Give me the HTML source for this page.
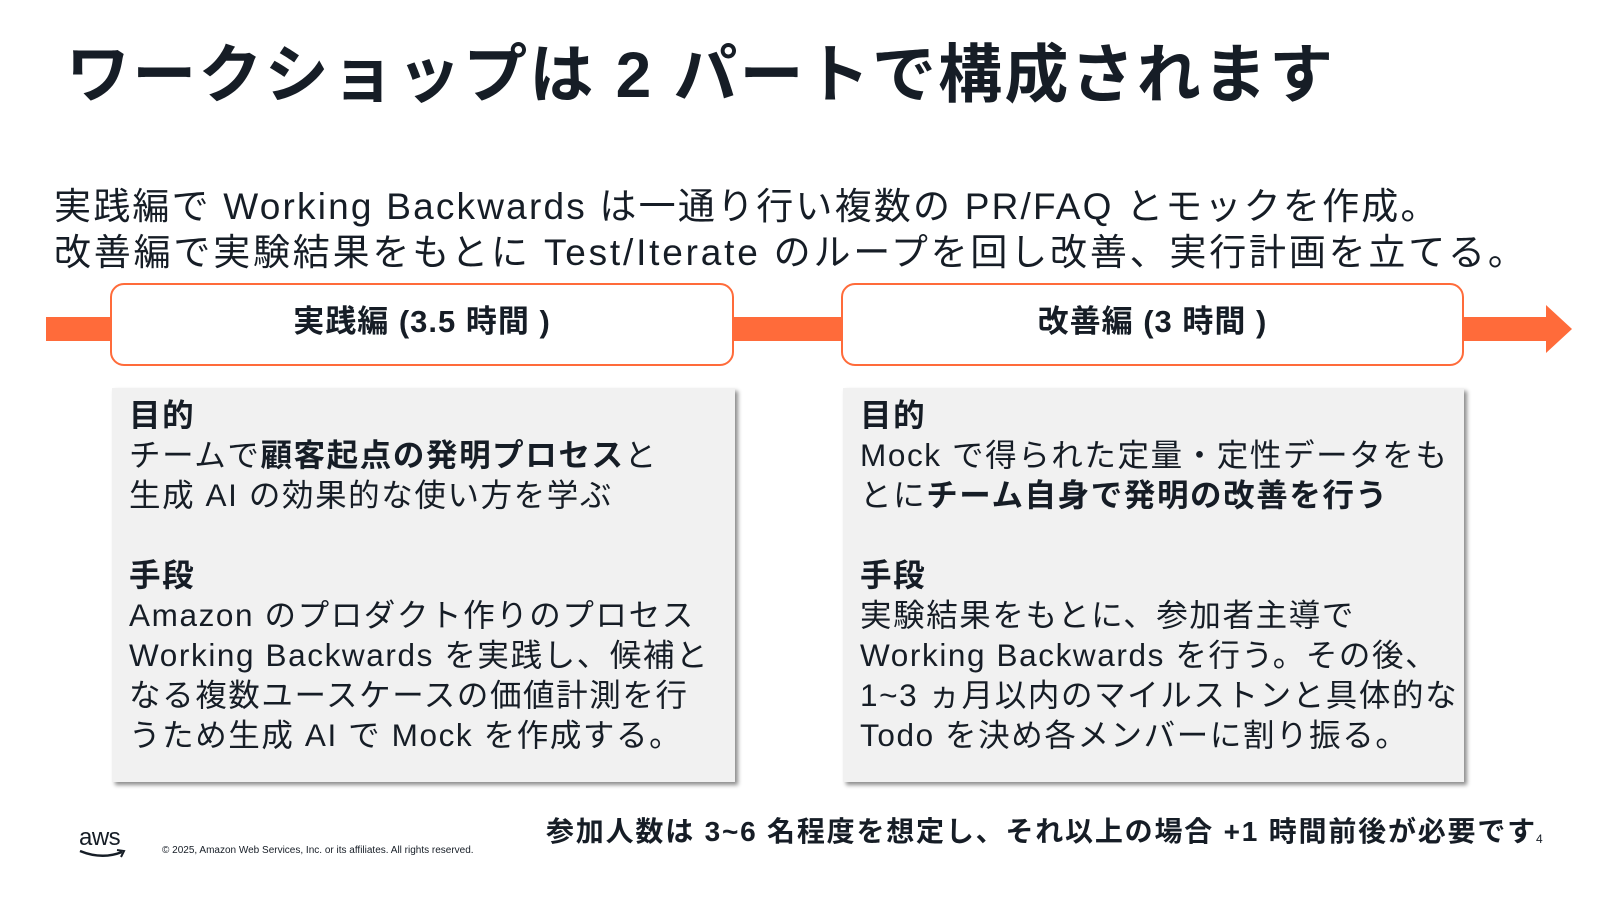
<!DOCTYPE html>
<html><head><meta charset="utf-8"><style>
*{margin:0;padding:0;box-sizing:border-box}
body{width:1600px;height:900px;background:#fff;position:relative;overflow:hidden;font-family:"Liberation Sans","Noto Sans CJK JP",sans-serif;color:#161d26}
.a{position:absolute;white-space:nowrap}
.title{left:66px;top:24px;font-size:64px;font-weight:bold;letter-spacing:2.2px}
.body{left:54px;font-size:37px;line-height:46px}
.bar{position:absolute;background:#ff6b3a}
.hdr{position:absolute;top:283px;height:83px;border:2px solid #ff6b3a;border-radius:14px;background:#fff;font-size:31px;font-weight:bold;letter-spacing:1px;display:flex;align-items:center;justify-content:center;padding-bottom:12px}
.panel{position:absolute;top:388px;height:394px;background:#f1f1f1;box-shadow:3px 3px 4px rgba(0,0,0,.45);padding:7px 0 0 17px;font-size:31.5px;line-height:40px;white-space:nowrap;letter-spacing:1.6px}
b{font-weight:bold}
</style></head><body>
<div class="a title">ワークショップは 2 パートで構成されます</div>
<div class="a body" style="top:184px;letter-spacing:2.2px">実践編で Working Backwards は一通り行い複数の PR/FAQ とモックを作成。</div>
<div class="a body" style="top:230px;letter-spacing:2.8px">改善編で実験結果をもとに Test/Iterate のループを回し改善、実行計画を立てる。</div>
<div class="bar" style="left:46px;top:317px;width:1504px;height:24px"></div>
<svg class="a" style="left:1546px;top:305px" width="28" height="50"><polygon points="0,0 26,24 0,48" fill="#ff6b3a"/></svg>
<div class="hdr" style="left:110px;width:624px">実践編 (3.5 時間 )</div>
<div class="hdr" style="left:841px;width:623px">改善編 (3 時間 )</div>
<div class="panel" style="left:112px;width:623px"><b>目的</b><br>チームで<b>顧客起点の発明プロセス</b>と<br>生成 AI の効果的な使い方を学ぶ<br><br><b>手段</b><br>Amazon のプロダクト作りのプロセス<br>Working Backwards を実践し、候補と<br>なる複数ユースケースの価値計測を行<br>うため生成 AI で Mock を作成する。</div>
<div class="panel" style="left:843px;width:621px"><b>目的</b><br>Mock で得られた定量・定性データをも<br>とに<b>チーム自身で発明の改善を行う</b><br><br><b>手段</b><br>実験結果をもとに、参加者主導で<br>Working Backwards を行う。その後、<br>1~3 ヵ月以内のマイルストンと具体的な<br>Todo を決め各メンバーに割り振る。</div>
<div class="a" style="left:546px;top:810px;font-size:28px;font-weight:bold;letter-spacing:1.8px">参加人数は 3~6 名程度を想定し、それ以上の場合 +1 時間前後が必要です</div>
<div class="a" style="left:1536px;top:832px;font-size:12px">4</div>
<div class="a" style="left:79px;top:826px;font-size:24px;line-height:24px;letter-spacing:-0.5px">aws</div>
<svg class="a" style="left:78px;top:848px" width="50" height="12"><path d="M2,3 Q24,12 44,4" stroke="#161d26" stroke-width="2.5" fill="none"/><path d="M39,2 L46,3 L43,9" stroke="#161d26" stroke-width="2" fill="none"/></svg>
<div class="a" style="left:162px;top:845px;font-size:10px">© 2025, Amazon Web Services, Inc. or its affiliates. All rights reserved.</div>
</body></html>
